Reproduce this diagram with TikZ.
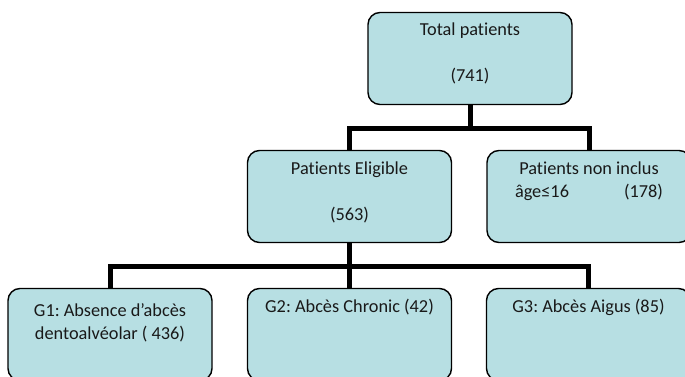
\documentclass[tikz,border=0pt]{standalone}
\usepackage{fontspec}
\setmainfont{Carlito}[Ligatures=NoCommon]
\usetikzlibrary{calc}
\definecolor{boxblue}{RGB}{183,223,227}
\frenchspacing
\def\boxtext#1#2{\parbox[c][92pt][t]{204pt}{\centering\rule{0pt}{#1}#2}}

\begin{document}
\begin{tikzpicture}[x=1pt, y=1pt,
    patbox/.style={draw=black, line width=1.4pt, fill=boxblue, rounded corners=12pt, inner sep=0pt, text=black!90, font=\fontsize{18.3}{23}\selectfont},
    link/.style={line width=5pt, line join=miter}]
			%%%%% START %%%%%
			
			\useasboundingbox (0, 0) rectangle (685, 377);
			
			\node[patbox] (total) at (470, 318.5) {\boxtext{23pt}{Total patients\\[23pt](741)}};
			
			\node[patbox] (elig) at (349.5, 180.5) {\boxtext{24pt}{Patients Eligible\\[23pt](563)}};
			\node[patbox] (excl) at (589, 180.5) {\boxtext{24pt}{Patients non inclus\\\makebox[148pt]{âge≤16\hfill(178)}}};
			
			\node[patbox] (g1) at (110, 42.5) {\boxtext{28pt}{G1: Absence d’abcès\\dentoalvéolar ( 436)}};
			\node[patbox] (g2) at (349.5, 42.5) {\boxtext{24pt}{G2: Abcès Chronic (42)}};
			\node[patbox] (g3) at (588.5, 42.5) {\boxtext{24pt}{G3: Abcès Aigus (85)}};
			
			\draw[link] (total.south) -- ++(0, -23.5) -| (elig.north);
			\draw[link] (total.south) -- ++(0, -23.5) -| (excl.north);
			
			\draw[link] (elig.south) -- ++(0, -23.5) -| (g1.north);
			\draw[link] (elig.south) -- (g2.north);
			\draw[link] (elig.south) -- ++(0, -23.5) -| (g3.north);
			
			%%%%% END %%%%%
\end{tikzpicture}
\end{document}
